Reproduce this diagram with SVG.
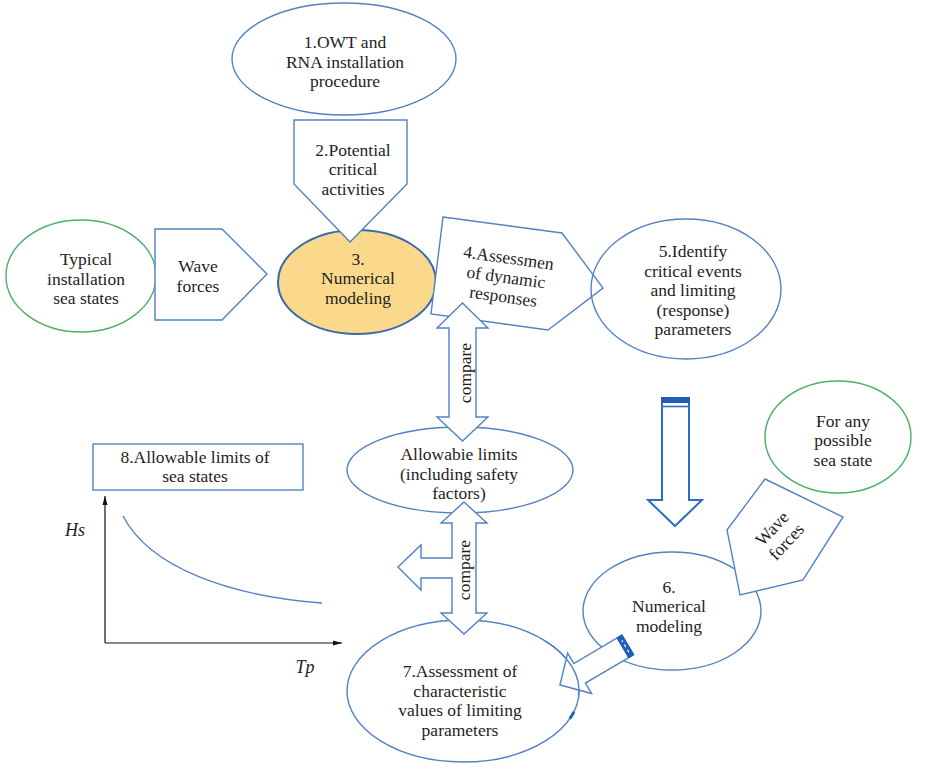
<svg xmlns="http://www.w3.org/2000/svg" width="933" height="774" viewBox="0 0 933 774">
<style>
  .b { fill: #ffffff; stroke: #5282c2; stroke-width: 1.4; }
  .n { fill: none; stroke: #5282c2; stroke-width: 1.4; }
  .g { fill: #ffffff; stroke: #4cb06a; stroke-width: 1.4; }
  .y { fill: #fad98c; stroke: #3a6aab; stroke-width: 2; }
  .da { fill: #ffffff; stroke: #2c6dc4; stroke-width: 2; }
  .cap { fill: #1f5fb8; stroke: none; }
  text { font-family: "Liberation Serif", "Times New Roman", serif; font-size: 17.5px; fill: #1e1e1e; text-anchor: middle; }
  .it { font-style: italic; font-size: 18px; }
  .ax { fill: none; stroke: #111; stroke-width: 1.2; }
</style>
<defs>
  <marker id="axh" markerWidth="10" markerHeight="8" refX="9" refY="4" orient="auto" markerUnits="userSpaceOnUse">
    <path d="M0,1.5 L9,4 L0,6.5 Z" fill="#111"/>
  </marker>
</defs>
<rect width="933" height="774" fill="#ffffff"/>

<g id="node1">
  <ellipse class="b" cx="344" cy="59" rx="112" ry="56"/>
  <text x="345" y="48">1.OWT and<tspan x="345" dy="19.5">RNA installation</tspan><tspan x="345" dy="19.5">procedure</tspan></text>
</g>

<g id="node3">
  <ellipse class="y" cx="357" cy="282" rx="79" ry="52"/>
  <text x="358" y="264.5">3.<tspan x="358" dy="19.5">Numerical</tspan><tspan x="358" dy="19.5">modeling</tspan></text>
</g>

<g id="node2">
  <polygon class="b" points="294,120 407,120 407,184 350,242 294,184"/>
  <text x="353" y="155.5">2.Potential<tspan x="353" dy="19.5">critical</tspan><tspan x="353" dy="19.5">activities</tspan></text>
</g>

<g id="sea-states">
  <ellipse class="g" cx="81" cy="276" rx="75" ry="56"/>
  <text x="86" y="265">Typical<tspan x="86" dy="19.5">installation</tspan><tspan x="86" dy="19.5">sea states</tspan></text>
</g>

<g id="wave-forces-1">
  <polygon class="b" points="155,229 222,229 267,274 222,320 155,320"/>
  <text x="198" y="272">Wave<tspan x="198" dy="19.5">forces</tspan></text>
</g>

<g id="node4">
  <polygon class="b" points="443,217 562,233 603,288 548,330 431,314"/>
  <text transform="translate(506,277) rotate(8)" x="0" y="-13.5">4.Assessmen<tspan x="0" dy="19.5">of dynamic</tspan><tspan x="0" dy="19.5">responses</tspan></text>
</g>

<g id="node5">
  <ellipse class="n" cx="686" cy="289" rx="95" ry="70"/>
  <text x="693" y="257">5.Identify<tspan x="693" dy="19.5">critical events</tspan><tspan x="693" dy="19.5">and limiting</tspan><tspan x="693" dy="19.5">(response)</tspan><tspan x="693" dy="19.5">parameters</tspan></text>
</g>

<g id="allowable">
  <ellipse class="b" cx="460" cy="470" rx="113" ry="43"/>
  <text x="459" y="460">Allowabie limits<tspan x="459" dy="19.5">(including safety</tspan><tspan x="459" dy="19.5">factors)</tspan></text>
</g>

<g id="node7">
  <ellipse class="b" cx="463" cy="691" rx="116" ry="71"/>
  <text x="460" y="677">7.Assessment of<tspan x="460" dy="19.5">characteristic</tspan><tspan x="460" dy="19.5">values of limiting</tspan><tspan x="460" dy="19.5">parameters</tspan></text>
</g>

<g id="node6">
  <ellipse class="b" cx="672" cy="611" rx="89" ry="59"/>
  <text x="669" y="592.5">6.<tspan x="669" dy="19.5">Numerical</tspan><tspan x="669" dy="19.5">modeling</tspan></text>
</g>

<g id="wave-forces-2">
  <polygon class="b" points="765,479 843,517 803,580 740,595 727,530"/>
  <text transform="translate(779,535) rotate(-47)" x="0" y="-3.75">Wave<tspan x="0" dy="19.5">forces</tspan></text>
</g>

<g id="any-sea-state">
  <ellipse class="g" cx="838" cy="437" rx="73" ry="56"/>
  <text x="843" y="426.5">For any<tspan x="843" dy="19.5">possible</tspan><tspan x="843" dy="19.5">sea state</tspan></text>
</g>

<g id="connectors">
  <g id="compare-upper">
    <polygon class="b" points="462.5,303 488,328 476,328 476,417 488,417 462.5,441 437,417 449,417 449,328 437,328"/>
    <text transform="translate(465,373) rotate(-90)" x="0" y="6">compare</text>
  </g>
  <g id="compare-lower">
    <polygon class="b" points="464,502 487,523 476,523 476,613 487,613 464,634 441,613 452,613 452,578 421,578 421,590 398,567 421,545 421,558 452,558 452,523 441,523"/>
    <text transform="translate(464,570) rotate(-90)" x="0" y="6">compare</text>
  </g>
  <g id="arrow-5-to-6">
    <polygon class="da" points="662,398 689,398 689,500 702,500 675,526 648,500 662,500"/>
    <rect class="cap" x="661" y="397" width="29" height="6"/>
    <line x1="662" y1="406.5" x2="689" y2="406.5" stroke="#2c6dc4" stroke-width="1.6"/>
  </g>
  <g id="arrow-6-to-7" transform="translate(627.5,645) rotate(149.4)">
    <polygon class="b" points="0,-11.4 55.6,-11.4 55.6,-23.5 78.5,0 55.6,23.5 55.6,11.4 0,11.4"/>
    <rect class="cap" x="-1" y="-12" width="7" height="24"/>
    <line x1="2.5" y1="-7" x2="2.5" y2="7" stroke="#ffffff" stroke-width="1.2" stroke-dasharray="3 3"/>
  </g>
</g>

<g id="node7-edge">
  <path class="n" d="M545.0,640.8 A116,71 0 0 1 578.6,697.2"/>
  <path d="M573.9,711.8 A116,71 0 0 1 569.8,718.7" fill="none" stroke="#1f5fb8" stroke-width="3"/>
</g>

<g id="node8">
  <rect class="b" x="93" y="444" width="210" height="46"/>
  <text x="195" y="462.5">8.Allowable limits of<tspan x="195" dy="19.5">sea states</tspan></text>
</g>

<g id="chart">
  <line class="ax" x1="105" y1="643" x2="105" y2="496" marker-end="url(#axh)"/>
  <line class="ax" x1="105" y1="643" x2="342" y2="643" marker-end="url(#axh)"/>
  <path class="n" d="M123,516 C150,568 230,596 322,603"/>
  <text class="it" x="75" y="536">Hs</text>
  <text class="it" x="305" y="673">Tp</text>
</g>
</svg>
